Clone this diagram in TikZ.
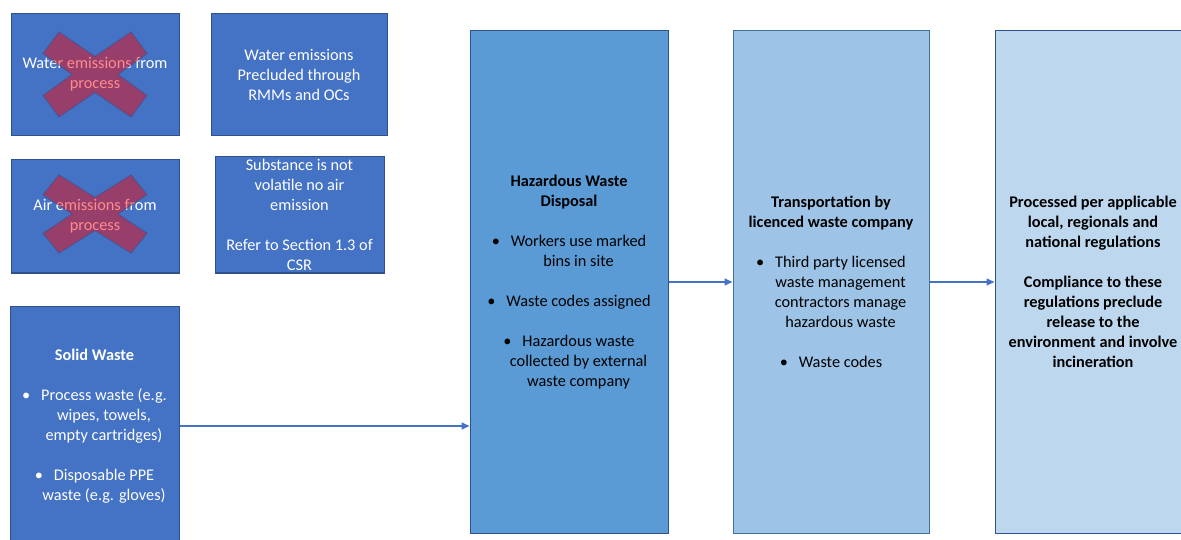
\documentclass[tikz,border=0pt]{standalone}
\usepackage{fontspec}
\setmainfont{Carlito}
\usepackage{tikz}
\usetikzlibrary{positioning,arrows.meta}
\usepackage{xcolor}
\definecolor{officeblue}{HTML}{4472C4}
\definecolor{edgeblue}{HTML}{2F528F}
\definecolor{midblue}{HTML}{5B9BD5}
\definecolor{softblue}{HTML}{9DC3E6}
\definecolor{paleblue}{HTML}{BDD7EE}
\definecolor{lightedge}{HTML}{41719C}
\newcommand{\bul}{\makebox[19pt][l]{\textbullet}}
\newcommand{\ind}{\hspace*{19pt}}

\begin{document}
\begin{tikzpicture}[x=1pt, y=-1pt,
  box/.style={rectangle, line width=1pt, align=center, inner sep=0pt,
    font=\fontsize{16.3}{20}\selectfont},
  darkblock/.style={box, draw=edgeblue, fill=officeblue, text=white},
  midblock/.style={box, draw=edgeblue, fill=midblue, text=black},
  softblock/.style={box, draw=lightedge, fill=softblue, text=black},
  paleblock/.style={box, draw=edgeblue, fill=paleblue, text=black},
  cross/.style={fill=red, fill opacity=0.45, draw=edgeblue, draw opacity=0.5, line width=1pt},
  flow/.style={officeblue, line width=1.5pt, -{Triangle[length=8pt,width=7pt]}}]
\useasboundingbox (0,0) rectangle (1181,540);
\clip (0,0) rectangle (1181,540);
%\draw[thin,color=gray!50] (0,0) grid[step=50] (1181,540);
\node[darkblock, minimum width=168pt, minimum height=122pt] (water) at (95,74.5)
  {Water emissions from\\process};
\node[darkblock, minimum width=176pt, minimum height=122pt] (waterpre) at (299,74.5)
  {Water emissions\\Precluded through\\RMMs and OCs};
\node[darkblock, minimum width=168pt, minimum height=113pt] (air) at (95,216.5)
  {Air emissions from\\process};
\node[darkblock, minimum width=169pt, minimum height=116pt] (subst) at (299.5,215)
  {Substance is not\\volatile no air\\emission\\[20pt]Refer to Section 1.3 of\\CSR};
\node[darkblock, minimum width=169pt, minimum height=240pt] (solid) at (94.5,426)
  {\textbf{Solid Waste}\\[20pt]\bul Process waste (e.g.\\\ind wipes, towels,\\\ind empty cartridges)\\[20pt]\bul Disposable PPE\\\ind waste (e.g. gloves)};
\node[midblock, minimum width=198pt, minimum height=502pt] (haz) at (569,282)
  {\textbf{Hazardous Waste}\\\textbf{Disposal}\\[20pt]\bul Workers use marked\\\ind bins in site\\[20pt]\bul Waste codes assigned\\[20pt]\bul Hazardous waste\\\ind collected by external\\\ind waste company};
\node[softblock, minimum width=196pt, minimum height=502pt] (trans) at (831,282)
  {\textbf{Transportation by}\\\textbf{licenced waste company}\\[20pt]\bul Third party licensed\\\ind waste management\\\ind contractors manage\\\ind hazardous waste\\[20pt]\bul Waste codes};
\node[paleblock, minimum width=196pt, minimum height=502pt, font=\fontsize{16.3}{20}\selectfont\bfseries] (proc) at (1093,282)
  {Processed per applicable\\local, regionals and\\national regulations\\[20pt]Compliance to these\\regulations preclude\\release to the\\environment and involve\\incineration};
% crosses over the emissions boxes
\foreach \cy/\sy in {74.5/1, 214/0.92}{
  \begin{scope}[shift={(95,\cy)}, yscale=\sy]
    \draw[cross] (-36,-42.5) -- (0,-18) -- (36,-42.5) -- (52,-21) -- (23,0) -- (52,21)
      -- (36,42.5) -- (0,18) -- (-36,42.5) -- (-52,21) -- (-23,0) -- (-52,-21) -- cycle;
  \end{scope}
}
\draw[flow] (solid.east) -- (solid.east -| haz.west);
\draw[flow] (haz.east) -- (trans.west);
\draw[flow] (trans.east) -- (proc.west);
\end{tikzpicture}
\end{document}
